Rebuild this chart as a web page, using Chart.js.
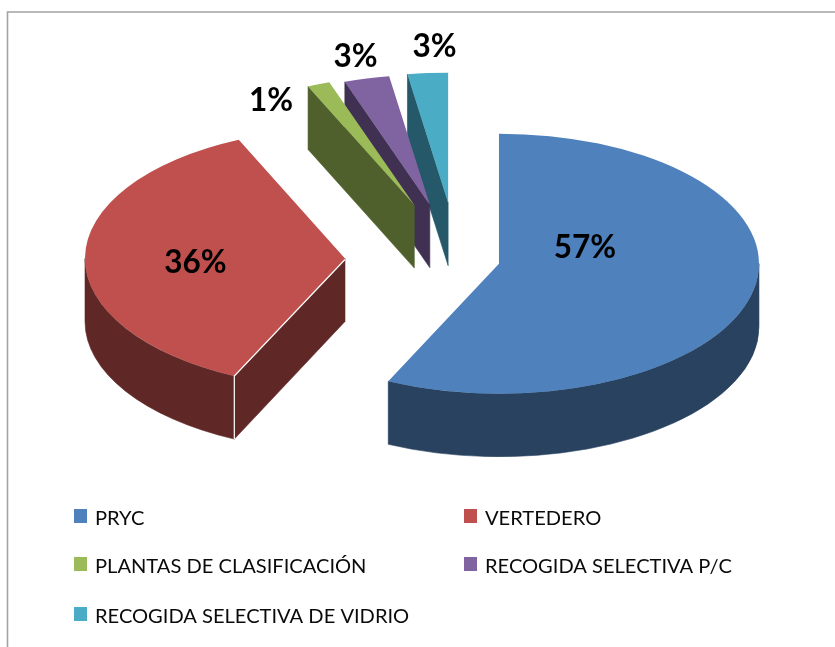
<!DOCTYPE html>
<html>
<head>
<meta charset="utf-8">
<style>html,body{margin:0;padding:0;background:#fff}canvas{display:block}</style>
<script src="https://cdn.jsdelivr.net/npm/chart.js@4"></script>
</head>
<body>
<canvas id="c" width="835" height="647"></canvas>
<script>
const categories = ['PRYC','VERTEDERO','PLANTAS DE CLASIFICACIÓN','RECOGIDA SELECTIVA P/C','RECOGIDA SELECTIVA DE VIDRIO'];
const values = [57,36.3,1.4,2.8,2.5];
const topColors = ['#4F81BD','#C0504D','#9BBB59','#8064A2','#4BACC6'];
const sideColors = ['#284260','#5F2826','#4F602D','#403152','#255868'];
const explode = [43,112,116,112,113];
const labelX = [585,195.5,271,355.5,434.5];
const labelY = [258,273,111,67,57];
const legendColumnX = [74,464];
const legendRowY = [509,557,607];
const SQUASH = 0.5, DEPTH = 63, RADIUS = 260;

const pie3d = {
  id:'pie3d',
  beforeDraw(chart){
    const c = chart.ctx;
    c.save();
    c.fillStyle='#fff'; c.fillRect(0,0,835,647);
    c.strokeStyle='#a3a3a3'; c.lineWidth=1.6;
    c.beginPath(); c.moveTo(7.5,647); c.lineTo(7.5,12); c.lineTo(835,12); c.stroke();
    c.restore();
  },
  beforeDatasetDraw(chart,args){
    const c = chart.ctx, arcs = chart.getDatasetMeta(args.index).data;
    for(let i=arcs.length-1;i>=0;i--){
      const arc = arcs[i];
      const a0 = arc.startAngle, a1 = arc.endAngle, R = arc.outerRadius, m=(a0+a1)/2;
      const tx = arc.x + Math.cos(m)*explode[i];
      const ty = arc.y + Math.sin(m)*explode[i]*SQUASH;
      const px = a => tx + R*Math.cos(a), py = a => ty + SQUASH*R*Math.sin(a);
      c.save();
      c.fillStyle = c.strokeStyle = sideColors[i];
      c.lineWidth = 0.6;
      const quad = a => {
        c.beginPath(); c.moveTo(tx,ty); c.lineTo(px(a),py(a));
        c.lineTo(px(a),py(a)+DEPTH); c.lineTo(tx,ty+DEPTH); c.closePath(); c.fill(); c.stroke();
      };
      if(Math.cos(a0) < -1e-6) quad(a0);
      if(Math.cos(a1) > 1e-6) quad(a1);
      for(const k of [-2*Math.PI,0,2*Math.PI]){
        const s = Math.max(a0,k), e = Math.min(a1,k+Math.PI);
        if(e > s){
          c.beginPath();
          c.ellipse(tx,ty,R,SQUASH*R,0,s,e,false);
          c.ellipse(tx,ty+DEPTH,R,SQUASH*R,0,e,s,true);
          c.closePath(); c.fill(); c.stroke();
        }
      }
      // top face drawn by the library's own arc element, squashed and moved out
      c.save();
      c.translate(tx,ty); c.scale(1,SQUASH); c.translate(-arc.x,-arc.y);
      arc.draw(c);
      c.restore();
      // bright seam on the large slice's front corner
      if(i===1){
        c.strokeStyle='#fff'; c.lineWidth=1.2;
        c.beginPath(); c.moveTo(tx,ty+1); c.lineTo(px(a0),py(a0)); c.lineTo(px(a0),py(a0)+DEPTH); c.stroke();
      }
      c.restore();
    }
    return false;
  },
  afterDraw(chart){
    const c = chart.ctx;
    c.save();
    c.textAlign='center'; c.textBaseline='alphabetic'; c.fillStyle='#000';
    c.font='bold 31.5px Lato';
    values.forEach((v,i)=>c.fillText(Math.round(v)+'%',labelX[i],labelY[i]));
    c.textAlign='left'; c.font='20.1px Lato';
    categories.forEach((t,i)=>{
      const x = legendColumnX[i%2], y = legendRowY[Math.floor(i/2)];
      c.fillStyle=topColors[i]; c.fillRect(x,y,13,14);
      c.fillStyle='#0a0a0a'; c.fillText(t,x+21,y+16);
    });
    c.restore();
  }
};

new Chart(document.getElementById('c'),{
  type:'pie',
  data:{labels:categories,datasets:[{data:values,backgroundColor:topColors,borderWidth:0}]},
  options:{
    responsive:false,animation:false,radius:RADIUS,
    layout:{padding:{left:79,right:0,top:0,bottom:129}},
    plugins:{legend:{display:false},tooltip:{enabled:false}}
  },
  plugins:[pie3d]
});
</script>
</body>
</html>
